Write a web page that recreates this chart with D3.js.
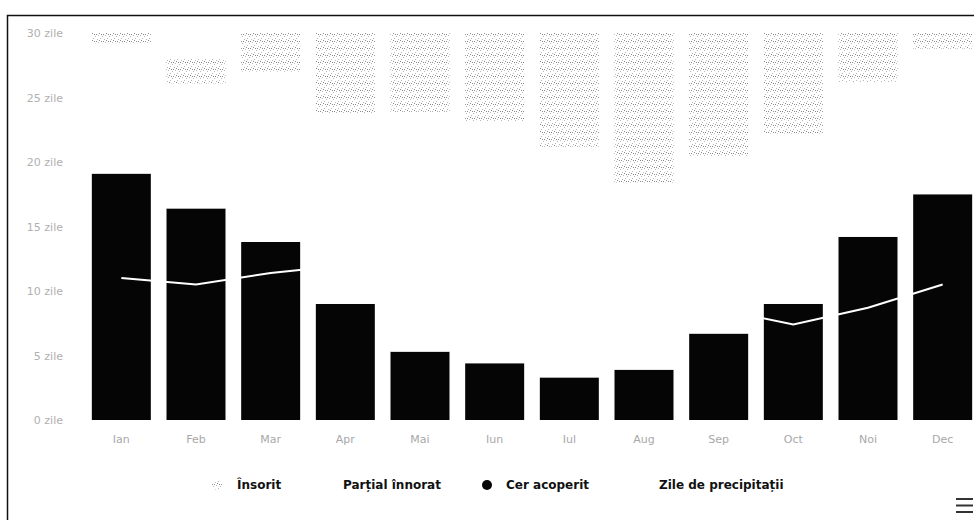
<html>
  <head>
    <meta charset="utf-8" />
    <title>Zile însorite, înnorate și cu precipitații</title>
    <style>
      body { margin: 0; background: #fff; }
      text { font-family: "DejaVu Sans", sans-serif; }
    </style>
  </head>
  <body>
    <script src="https://cdn.jsdelivr.net/npm/d3@7/dist/d3.min.js" charset="utf-8"></script>
    <script>
      const months = ["Ian", "Feb", "Mar", "Apr", "Mai", "Iun", "Iul", "Aug", "Sep", "Oct", "Noi", "Dec"];
      // zile pe lună
      const overcast = [19.1, 16.4, 13.8, 9.0, 5.3, 4.4, 3.3, 3.9, 6.7, 9.0, 14.2, 17.5];
      const partly = [10.1, 9.7, 13.2, 14.8, 18.6, 18.7, 17.9, 14.5, 13.7, 13.2, 12.0, 11.3];
      const sunny = [1.8, 1.9, 4.0, 6.2, 7.1, 6.9, 9.8, 12.6, 9.6, 8.8, 3.8, 2.2];
      const precipDays = [11.0, 10.5, 11.4, 12.0, 13.0, 12.5, 10.5, 9.0, 8.6, 7.4, 8.7, 10.5];
      const yTicks = [0, 5, 10, 15, 20, 25, 30];
      const legendNames = ["Însorit", "Parțial înnorat", "Cer acoperit", "Zile de precipitații"];

      const width = 974;
      const height = 520;
      const plot = { left: 84, right: 980, top: 33, bottom: 420 };

      const svg = d3
        .select("body")
        .append("svg")
        .attr("width", width)
        .attr("height", height);

      // textura punctată pentru "însorit"
      const pat = svg
        .append("defs")
        .append("pattern")
        .attr("id", "dots")
        .attr("patternUnits", "userSpaceOnUse")
        .attr("width", 7)
        .attr("height", 7);
      pat
        .selectAll("rect")
        .data([[0, 0], [4, 1], [2, 3], [6, 4], [1, 5], [5, 6], [3, 6]])
        .join("rect")
        .attr("x", d => d[0])
        .attr("y", d => d[1])
        .attr("width", 1)
        .attr("height", 1)
        .attr("fill", d => (d[0] % 2 ? "#8a8a8a" : "#b8b8b8"));

      // chenarul
      svg
        .append("rect")
        .attr("x", 7.5)
        .attr("y", 15.5)
        .attr("width", 1000)
        .attr("height", 600)
        .attr("fill", "none")
        .attr("stroke", "#111")
        .attr("stroke-width", 1.5);

      svg
        .append("clipPath")
        .attr("id", "clip")
        .append("rect")
        .attr("x", plot.left)
        .attr("y", plot.top)
        .attr("width", plot.right - plot.left)
        .attr("height", plot.bottom - plot.top);

      const x = d3
        .scaleBand()
        .domain(months)
        .range([plot.left, plot.right])
        .paddingInner(0.21)
        .paddingOuter(0.105);

      const y = d3.scaleLinear().domain([0, 30]).range([plot.bottom, plot.top]);

      const rows = months.map((m, i) => ({
        month: m,
        overcast: overcast[i],
        partly: partly[i],
        sunny: sunny[i]
      }));
      const keys = ["overcast", "partly", "sunny"];
      const colors = { overcast: "#050505", partly: "#ffffff", sunny: "url(#dots)" };
      const series = d3.stack().keys(keys)(rows);

      const bars = svg.append("g").attr("clip-path", "url(#clip)");
      bars
        .selectAll("g")
        .data(series)
        .join("g")
        .attr("fill", d => colors[d.key])
        .selectAll("rect")
        .data(d => d)
        .join("rect")
        .attr("x", d => x(d.data.month))
        .attr("width", x.bandwidth())
        .attr("y", d => y(d[1]))
        .attr("height", d => y(d[0]) - y(d[1]));

      // linia zilelor de precipitații
      const line = d3
        .line()
        .x((d, i) => x(months[i]) + x.bandwidth() / 2)
        .y(d => y(d));
      svg
        .append("path")
        .attr("d", line(precipDays))
        .attr("fill", "none")
        .attr("stroke", "#ffffff")
        .attr("stroke-width", 2);

      // axa Y
      const yAxis = svg
        .append("g")
        .attr("transform", "translate(63,0)")
        .call(
          d3
            .axisLeft(y)
            .tickValues(yTicks)
            .tickSize(0)
            .tickPadding(0)
            .tickFormat(d => d + " zile")
        );
      yAxis.select(".domain").remove();
      yAxis.selectAll("text").attr("fill", "#b0b0b0").style("font-size", "11px");

      // axa X
      const xAxis = svg
        .append("g")
        .attr("transform", `translate(0,${plot.bottom + 15})`)
        .call(d3.axisBottom(x).tickSize(0).tickPadding(0));
      xAxis.select(".domain").remove();
      xAxis.selectAll("text").attr("fill", "#a8a8a8").style("font-size", "11px");

      // legenda
      const legendX = [237, 343, 506, 659];
      const legendY = 485;
      const legend = svg
        .append("g")
        .selectAll("g")
        .data(legendNames)
        .join("g")
        .attr("transform", (d, i) => `translate(${legendX[i]},${legendY})`);
      legend
        .append("text")
        .attr("dy", "0.35em")
        .style("font-size", "12px")
        .style("font-weight", "bold")
        .attr("fill", "#111")
        .text(d => d);
      legend
        .filter((d, i) => i === 0)
        .append("circle")
        .attr("cx", -20)
        .attr("r", 5)
        .attr("fill", "url(#dots)");
      legend
        .filter((d, i) => i === 2)
        .append("circle")
        .attr("cx", -19)
        .attr("r", 5)
        .attr("fill", "#050505");

      // butonul de meniu
      svg
        .append("g")
        .selectAll("line")
        .data([499, 505.5, 512])
        .join("line")
        .attr("x1", 956)
        .attr("x2", 973)
        .attr("y1", d => d)
        .attr("y2", d => d)
        .attr("stroke", "#333")
        .attr("stroke-width", 2);
    </script>
  </body>
</html>
